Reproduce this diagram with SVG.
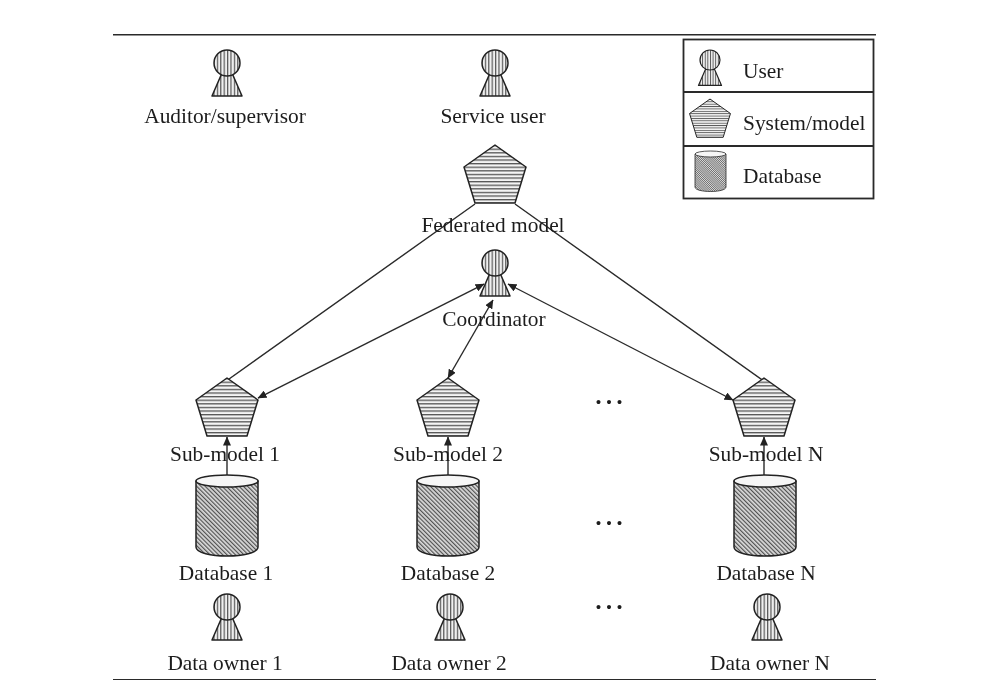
<svg xmlns="http://www.w3.org/2000/svg" width="998" height="694" viewBox="0 0 998 694">
<style>
text{font-family:"Liberation Serif","Times New Roman",serif;font-size:21.4px;fill:#1c1c1c;text-anchor:middle}
.l{text-anchor:start}
.o{stroke:#222;stroke-width:1.5;stroke-linejoin:round}
.c{stroke:#2a2a2a;stroke-width:1.4;fill:none}
.r{stroke:#2a2a2a;stroke-width:1.8;fill:none}
.dots{font-size:34px;letter-spacing:2px}
</style>
<defs>
<filter id="soft" x="0" y="0" width="100%" height="100%"><feGaussianBlur stdDeviation="0.35"/></filter>
<pattern id="v" width="3.4" height="4" patternUnits="userSpaceOnUse"><rect width="3.4" height="4" fill="#f0f0f0"/><rect width="1.2" height="4" fill="#555"/></pattern>
<pattern id="h" width="4" height="3.6" patternUnits="userSpaceOnUse"><rect width="4" height="3.6" fill="#f4f4f4"/><rect width="4" height="1.3" fill="#555"/></pattern>
<pattern id="d" width="3" height="3" patternUnits="userSpaceOnUse" patternTransform="rotate(-45)"><rect width="3" height="3" fill="#dcdcdc"/><rect width="1.2" height="3" fill="#505050"/></pattern>
<marker id="a" markerWidth="9" markerHeight="8" refX="8.500" refY="4" orient="auto-start-reverse" markerUnits="userSpaceOnUse"><path d="M0 0L9 4L0 8z" fill="#222"/></marker>
<g id="user"><path class="o" fill="url(#v)" d="M-5 10L-15 33H15L5 10z"/><circle class="o" fill="url(#v)" cx="0" cy="0" r="13"/></g>
<g id="penta"><path class="o" fill="url(#h)" d="M0 0L31 22L20 58H-20L-31 22z"/></g>
<g id="db"><path class="o" fill="url(#d)" d="M-31 6V72C-31 84 31 84 31 72V6z"/><ellipse class="o" fill="#f6f6f6" cx="0" cy="6" rx="31" ry="6"/></g>
</defs>
<rect width="998" height="694" fill="#fff"/>
<g filter="url(#soft)">
<g id="frame"><path class="r" d="M113 34.500H876M113 680H876"/></g>
<g id="connectors">
<path class="c" d="M475 204L215 389M515 204L775 389"/>
<path class="c" marker-start="url(#a)" marker-end="url(#a)" d="M484 284L258 398"/>
<path class="c" marker-start="url(#a)" marker-end="url(#a)" d="M493 300L448 378"/>
<path class="c" marker-start="url(#a)" marker-end="url(#a)" d="M508 284L733 400"/>
<path class="c" marker-end="url(#a)" d="M227 476V437"/>
<path class="c" marker-end="url(#a)" d="M448 476V437"/>
<path class="c" marker-end="url(#a)" d="M764 476V437"/>
</g>
<g id="auditor"><use href="#user" x="227" y="63"/><text x="225" y="123">Auditor/supervisor</text></g>
<g id="service-user"><use href="#user" x="495" y="63"/><text x="493" y="123">Service user</text></g>
<g id="federated-model"><use href="#penta" x="495" y="145"/><text x="493" y="232">Federated model</text></g>
<g id="coordinator"><use href="#user" x="495" y="263"/><text x="494" y="326">Coordinator</text></g>
<g id="sub-model-1"><use href="#penta" x="227" y="378"/><text x="225" y="461">Sub-model 1</text></g>
<g id="sub-model-2"><use href="#penta" x="448" y="378"/><text x="448" y="461">Sub-model 2</text></g>
<g id="sub-model-n"><use href="#penta" x="764" y="378"/><text x="766" y="461">Sub-model N</text></g>
<g id="database-1"><use href="#db" x="227" y="475"/><text x="226" y="580">Database 1</text></g>
<g id="database-2"><use href="#db" x="448" y="475"/><text x="448" y="580">Database 2</text></g>
<g id="database-n"><use href="#db" x="765" y="475"/><text x="766" y="580">Database N</text></g>
<g id="data-owner-1"><use href="#user" x="227" y="607"/><text x="225" y="670">Data owner 1</text></g>
<g id="data-owner-2"><use href="#user" x="450" y="607"/><text x="449" y="670">Data owner 2</text></g>
<g id="data-owner-n"><use href="#user" x="767" y="607"/><text x="770" y="670">Data owner N</text></g>
<g id="ellipses">
<text class="dots" x="610" y="404">...</text>
<text class="dots" x="610" y="525">...</text>
<text class="dots" x="610" y="609">...</text>
</g>
<g id="legend">
<rect class="r" fill="#fff" x="683.500" y="39.500" width="190" height="159"/>
<path class="r" d="M683.500 92H873.500M683.500 146H873.500"/>
<g id="legend-user"><g transform="translate(710 60) scale(.77)"><use href="#user"/></g><text class="l" x="743" y="78">User</text></g>
<g id="legend-system"><g transform="translate(710 99) scale(.66)"><use href="#penta"/></g><text class="l" x="743" y="130">System/model</text></g>
<g id="legend-database"><g transform="translate(710.500 151) scale(.5)"><use href="#db"/></g><text class="l" x="743" y="183">Database</text></g>
</g>
</g>
</svg>
